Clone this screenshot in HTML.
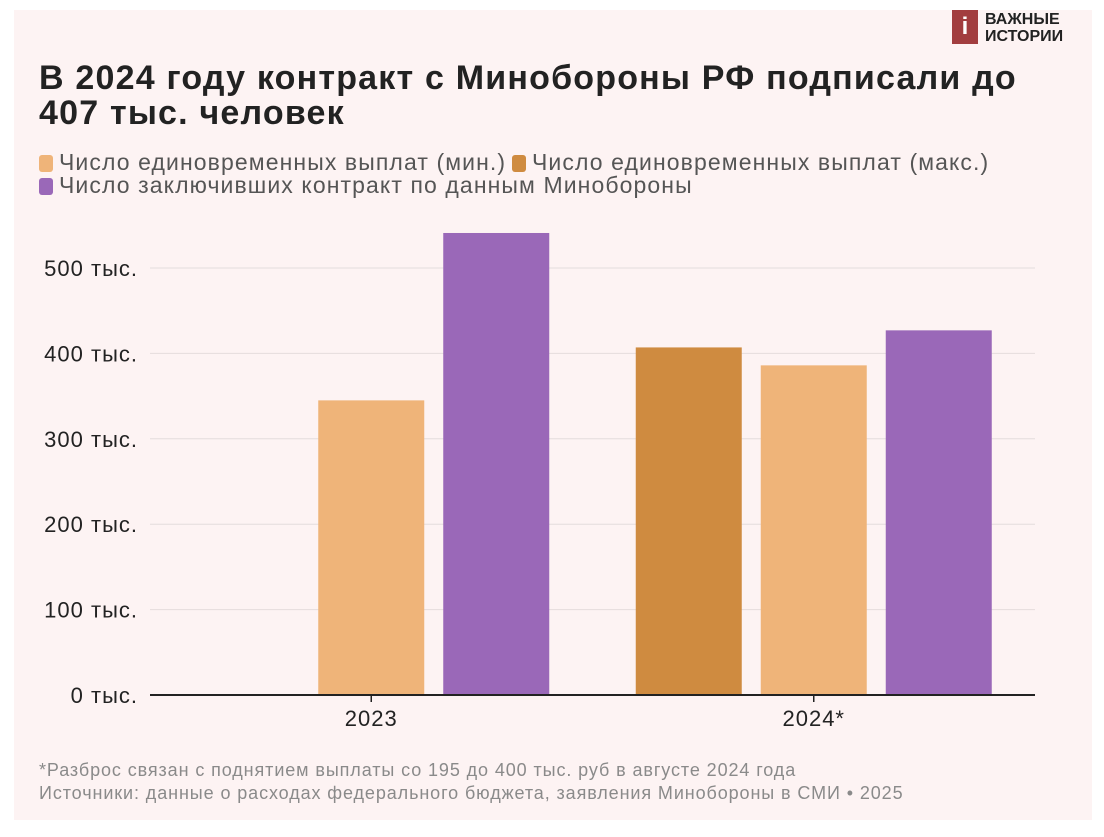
<!DOCTYPE html>
<html><head><meta charset="utf-8"><style>
body{margin:0;width:1104px;height:837px;background:#fff;position:relative;overflow:hidden;font-family:"Liberation Sans","DejaVu Sans",sans-serif}
#panel{position:absolute;left:14px;top:10px;width:1078px;height:810px;background:#fdf3f3}
#title{position:absolute;left:39px;top:61px;font-size:34px;font-weight:bold;color:#222;line-height:35px;letter-spacing:1.2px;white-space:nowrap}
.leg{position:absolute;font-size:23px;color:#555;line-height:25px;white-space:nowrap;letter-spacing:1.1px}
.sw{display:inline-block;width:14px;height:17px;border-radius:3px;margin-right:6px;vertical-align:-2px}
.foot{position:absolute;left:39px;font-size:18px;color:#8a8a8a;white-space:nowrap;letter-spacing:0.9px}
</style></head><body>
<div id="panel"></div>
<div style="position:absolute;left:952px;top:10px;width:26px;height:34px;background:#a23d3f;color:#fff;font-weight:bold;font-size:24px;text-align:center;line-height:34px">i</div>
<div style="position:absolute;left:985px;top:11px;font-size:16px;font-weight:bold;line-height:17px;color:#222">ВАЖНЫЕ<br>ИСТОРИИ</div>
<div id="title">В 2024 году контракт с Минобороны РФ подписали до<br>407 тыс. человек</div>
<div class="leg" style="left:39px;top:150px"><span class="sw" style="background:#efb479"></span>Число единовременных выплат (мин.)</div>
<div class="leg" style="left:512px;top:150px"><span class="sw" style="background:#cf8b40"></span>Число единовременных выплат (макс.)</div>
<div class="leg" style="left:39px;top:173px"><span class="sw" style="background:#9a68b8"></span>Число заключивших контракт по данным Минобороны</div>
<svg id="chart" width="1104" height="837" style="position:absolute;left:0;top:0"></svg>
<div class="foot" style="top:760px">*Разброс связан с поднятием выплаты со 195 до 400 тыс. руб в августе 2024 года</div>
<div class="foot" style="top:783px">Источники: данные о расходах федерального бюджета, заявления Минобороны в СМИ • 2025</div>
<script>
const categories=["2023","2024*"];
const maxVals=[null,407];
const minVals=[345,386];
const modVals=[541,427];
const ticks=[0,100,200,300,400,500];
const tickLabels=["0 тыс.","100 тыс.","200 тыс.","300 тыс.","400 тыс.","500 тыс."];
const ns="http://www.w3.org/2000/svg",svg=document.getElementById("chart");
const x0=150,x1=1035,y0=695,pxPer=0.854;
const y=v=>y0-v*pxPer;
const band=(x1-x0)/categories.length;
const cx=i=>x0+band*(i+0.5);
function mk(t,a){const e=document.createElementNS(ns,t);for(const k in a)e.setAttribute(k,a[k]);svg.appendChild(e);return e;}
ticks.forEach((t,i)=>{
 if(t>0){const g=mk("line",{x1:x0,x2:x1,y1:y(t),y2:y(t),stroke:"#e4dcdc","stroke-width":1});
 
 }
 const l=mk("text",{x:138,y:y(t)+8,"text-anchor":"end","font-size":22,"letter-spacing":1,fill:"#222","font-family":"Liberation Sans, sans-serif"});
 l.textContent=tickLabels[i];
 
 
});
const series=[[maxVals,"#cf8b40","max"],[minVals,"#efb479","min"],[modVals,"#9a68b8","mod"]];
const slot=125,bw=106;
categories.forEach((c,i)=>{
 series.forEach((s,j)=>{
  const v=s[0][i];if(v==null)return;
  const xl=cx(i)+(j-1)*slot-bw/2;
  const r=mk("rect",{x:xl,y:y(v),width:bw,height:v*pxPer,fill:s[1]});
  
  
 });
 const tk=mk("line",{x1:cx(i),x2:cx(i),y1:y0,y2:y0+7,stroke:"#222","stroke-width":1.5});
 
 
 const t=mk("text",{x:cx(i),y:y0+31,"text-anchor":"middle","font-size":22,"letter-spacing":1,fill:"#222","font-family":"Liberation Sans, sans-serif"});
 t.textContent=c;
 
 
});
const ax=mk("line",{x1:x0,x2:x1,y1:y0,y2:y0,stroke:"#222","stroke-width":2});


</script>
</body></html>
